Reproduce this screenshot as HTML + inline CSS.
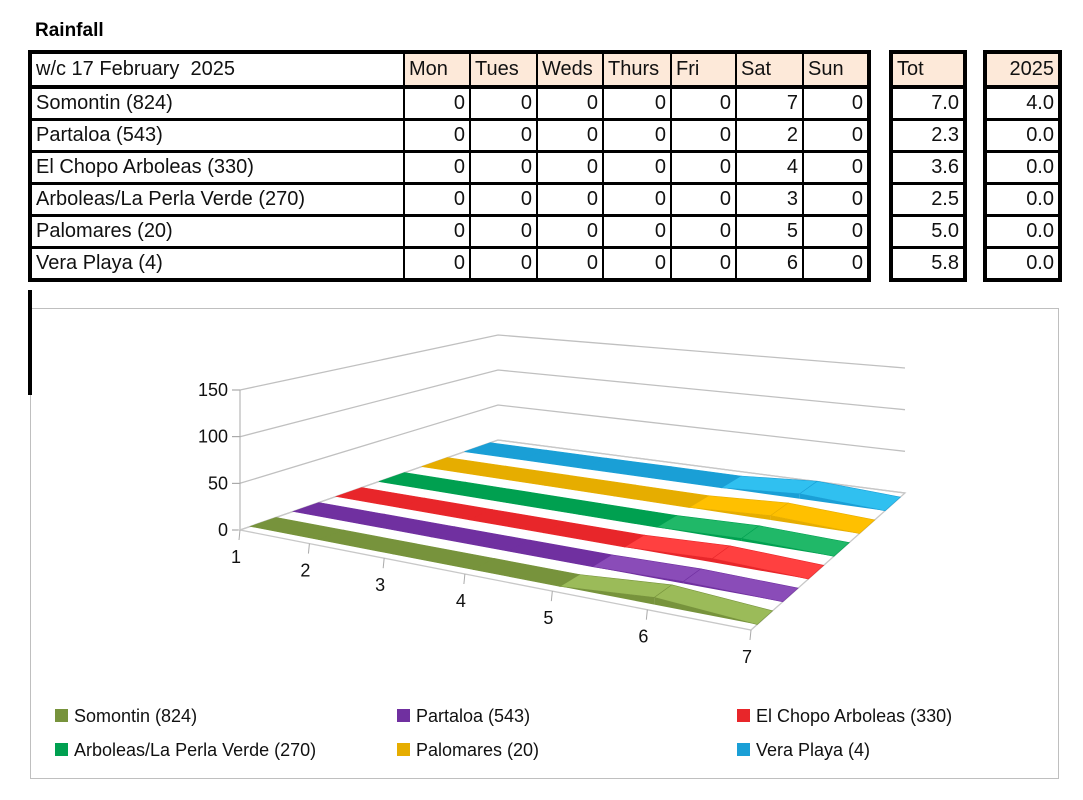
<!DOCTYPE html>
<html><head><meta charset="utf-8"><style>
body{margin:0;background:#fff;width:1083px;height:800px;position:relative;overflow:hidden;font-family:"Liberation Sans",sans-serif}
.t{position:absolute;border-collapse:collapse;table-layout:fixed;font-size:20px;color:#111}
.t td{border:2px solid #000;border-bottom:3px solid #000;height:29px;padding:0 4px;white-space:nowrap;overflow:hidden}
.t tr.h td{background:#fde9d9;border-bottom:4px solid #000;height:31px}
.t td.n{text-align:right}
.outer{border:4px solid #000 !important}
</style></head><body>
<div style="position:absolute;left:35px;top:20px;font-weight:bold;font-size:19px">Rainfall</div>
<table class="t outer" style="left:28px;top:50px;width:842px">
<colgroup><col style="width:374px"><col style="width:66px"><col style="width:67px"><col style="width:66px"><col style="width:68px"><col style="width:65px"><col style="width:67px"><col style="width:66px"></colgroup>
<tr class="h"><td style="background:#fff">w/c 17 February&nbsp; 2025</td><td>Mon</td><td>Tues</td><td>Weds</td><td>Thurs</td><td>Fri</td><td>Sat</td><td>Sun</td></tr>
<tr><td>Somontin (824)</td><td class="n">0</td><td class="n">0</td><td class="n">0</td><td class="n">0</td><td class="n">0</td><td class="n">7</td><td class="n">0</td></tr>
<tr><td>Partaloa (543)</td><td class="n">0</td><td class="n">0</td><td class="n">0</td><td class="n">0</td><td class="n">0</td><td class="n">2</td><td class="n">0</td></tr>
<tr><td>El Chopo Arboleas (330)</td><td class="n">0</td><td class="n">0</td><td class="n">0</td><td class="n">0</td><td class="n">0</td><td class="n">4</td><td class="n">0</td></tr>
<tr><td>Arboleas/La Perla Verde (270)</td><td class="n">0</td><td class="n">0</td><td class="n">0</td><td class="n">0</td><td class="n">0</td><td class="n">3</td><td class="n">0</td></tr>
<tr><td>Palomares (20)</td><td class="n">0</td><td class="n">0</td><td class="n">0</td><td class="n">0</td><td class="n">0</td><td class="n">5</td><td class="n">0</td></tr>
<tr><td>Vera Playa (4)</td><td class="n">0</td><td class="n">0</td><td class="n">0</td><td class="n">0</td><td class="n">0</td><td class="n">6</td><td class="n">0</td></tr>
</table>
<table class="t outer" style="left:889px;top:50px;width:78px">
<tr class="h"><td>Tot</td></tr><tr><td class="n">7.0</td></tr><tr><td class="n">2.3</td></tr><tr><td class="n">3.6</td></tr><tr><td class="n">2.5</td></tr><tr><td class="n">5.0</td></tr><tr><td class="n">5.8</td></tr></table>
<table class="t outer" style="left:983px;top:50px;width:79px">
<tr class="h"><td class="n">2025</td></tr><tr><td class="n">4.0</td></tr><tr><td class="n">0.0</td></tr><tr><td class="n">0.0</td></tr><tr><td class="n">0.0</td></tr><tr><td class="n">0.0</td></tr><tr><td class="n">0.0</td></tr></table>
<div style="position:absolute;left:30px;top:308px;width:1027px;height:469px;border:1px solid #bfbfbf"></div>
<div style="position:absolute;left:28px;top:290px;width:4px;height:105px;background:#000"></div>
<svg id="c" width="1083" height="800" style="position:absolute;left:0;top:0" font-family="Liberation Sans, sans-serif"></svg>
<script>
const categories=[1,2,3,4,5,6,7];
const seriesNames=["Somontin (824)","Partaloa (543)","El Chopo Arboleas (330)","Arboleas/La Perla Verde (270)","Palomares (20)","Vera Playa (4)"];
const somontin=[0,0,0,0,0,7,0];
const partaloa=[0,0,0,0,0,2,0];
const elChopo=[0,0,0,0,0,4,0];
const arboleas=[0,0,0,0,0,3,0];
const palomares=[0,0,0,0,0,5,0];
const veraPlaya=[0,0,0,0,0,6,0];
const yTicks=[0,50,100,150];
const colors=["#77933c","#7030a0","#e8262a","#00a050","#e6ad00","#1a9fd6"];
const tops=["#9bbb59","#8a4cb8","#ff4040","#20b868","#ffc000","#30c0f0"];
const series=[somontin,partaloa,elChopo,arboleas,palomares,veraPlaya];
const svg=document.getElementById('c');const NS="http://www.w3.org/2000/svg";
const FL=[240,530],FR=[751,630],BL=[498,440],BR=[905,493];const YMAX=150;
function ease(t){const k=-0.214;return t*(1+k)/(1+k*t);}
function uOf(i){return ease(i/(categories.length-1));}
function P(u,v,val){const x0=FL[0]+(FR[0]-FL[0])*u,y0=FL[1]+(FR[1]-FL[1])*u,x1=BL[0]+(BR[0]-BL[0])*u,y1=BL[1]+(BR[1]-BL[1])*u;
const sc=((140+20*u)*(1-v)+(105+20*u)*v)/YMAX;return [x0+(x1-x0)*v,y0+(y1-y0)*v-val*sc];}
function add(tag,at,name){const e=document.createElementNS(NS,tag);for(const k in at)e.setAttribute(k,at[k]);


svg.appendChild(e);return e;}
function pts(a){return a.map(p=>p[0].toFixed(1)+','+p[1].toFixed(1)).join(' ');}
// gridlines
yTicks.forEach(t=>{const a=P(0,0,t),b=P(0,1,t),c=P(1,1,t);
add('polyline',{points:pts([a,b,c]),fill:'none',stroke:'#c0c0c0','stroke-width':1.3},'gridline-'+t);
add('line',{x1:a[0]-8,y1:a[1],x2:a[0],y2:a[1],stroke:'#999'},'y-tick-'+t);
const tx=add('text',{x:a[0]-12,y:a[1]+6,'text-anchor':'end','font-size':18,fill:'#111'},'y-tick-label-'+t);tx.textContent=t;});
const a0=P(0,0,0),a1=P(0,0,YMAX);add('line',{x1:a0[0],y1:a0[1],x2:a1[0],y2:a1[1],stroke:'#aaa'},'y-axis');
add('polygon',{points:pts([P(0,0,0),P(1,0,0),P(1,1,0),P(0,1,0)]),fill:'none',stroke:'#c8c8c8','stroke-width':1.3},'floor');
categories.forEach((c,i)=>{const p=P(uOf(i),0,0);
add('line',{x1:p[0],y1:p[1],x2:p[0]-1,y2:p[1]+10,stroke:'#aaa'},'x-tick-'+c);
const tx=add('text',{x:p[0]-4,y:p[1]+33,'text-anchor':'middle','font-size':18,fill:'#111'},'x-tick-label-'+c);tx.textContent=c;});
const W=0.1;
for(let k=series.length-1;k>=0;k--){const v=0.04+k*0.166,d=series[k];
for(let i=0;i<d.length-1;i++){const u0=uOf(i),u1=uOf(i+1);
add('polygon',{points:pts([P(u0,v,0),P(u1,v,0),P(u1,v,d[i+1]),P(u0,v,d[i])]),fill:colors[k]},'series-'+k+'-side-'+i);
add('polygon',{points:pts([P(u0,v,d[i]),P(u1,v,d[i+1]),P(u1,v+W,d[i+1]),P(u0,v+W,d[i])]),fill:(d[i]||d[i+1])?tops[k]:colors[k],stroke:colors[k],'stroke-width':0.6},'series-'+k+'-segment-'+i);}}
// legend
const lx=[55,397,737],ly=[717,751];
seriesNames.forEach((n,k)=>{const x=lx[k%3],y=ly[Math.floor(k/3)];
add('rect',{x:x,y:y-8,width:13,height:13,fill:colors[k]},'legend-swatch-'+k);
const tx=add('text',{x:x+19,y:y+5,'font-size':18,fill:'#111'},'legend-label-'+k);tx.textContent=n;});
</script>
</body></html>
